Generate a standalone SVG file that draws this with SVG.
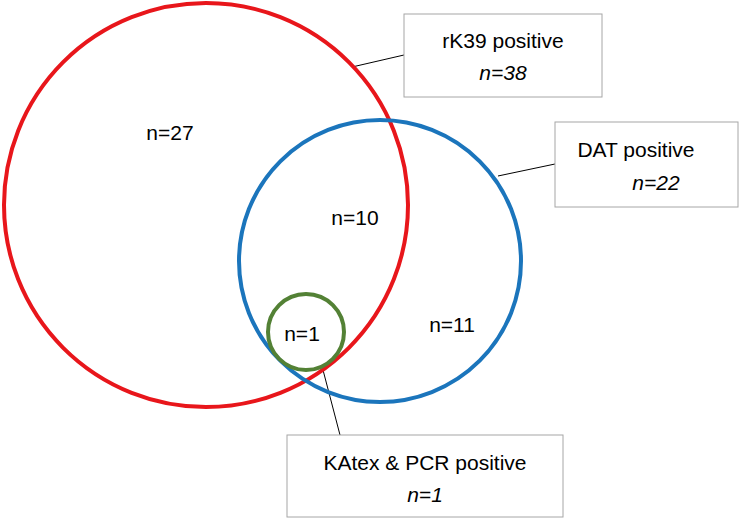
<svg xmlns="http://www.w3.org/2000/svg" width="750" height="524" viewBox="0 0 750 524">
<style>
text{font-family:"Liberation Sans",Arial,sans-serif;font-size:21px;fill:#000}
.box{fill:#fff;stroke:#a6a6a6;stroke-width:1}
.ln{stroke:#000;stroke-width:1;fill:none}
.it{font-style:italic}
</style>
<rect width="750" height="524" fill="#fff"/>
<g id="connectors">
<line class="ln" x1="352" y1="67" x2="404" y2="55"/>
<line class="ln" x1="498" y1="176" x2="555" y2="164"/>
<line class="ln" x1="323" y1="370" x2="340" y2="435"/>
</g>
<g id="rk39"><circle cx="206" cy="205" r="202" fill="none" stroke="#e8161b" stroke-width="4"/>
<text x="170" y="140" text-anchor="middle">n=27</text></g>
<g id="dat"><circle cx="380" cy="261" r="141" fill="none" stroke="#1b75bc" stroke-width="4"/>
<text x="355" y="225" text-anchor="middle">n=10</text>
<text x="452" y="332" text-anchor="middle">n=11</text></g>
<g id="katex"><circle cx="306" cy="332" r="38" fill="none" stroke="#538135" stroke-width="4"/>
<text x="302" y="341" text-anchor="middle">n=1</text></g>
<g id="rk39-label"><rect class="box" x="404" y="14" width="198" height="83"/>
<text x="503" y="48" text-anchor="middle">rK39 positive</text>
<text class="it" x="503" y="80" text-anchor="middle">n=38</text></g>
<g id="dat-label"><rect class="box" x="555" y="122" width="183" height="85"/>
<text x="636" y="157" text-anchor="middle">DAT positive</text>
<text class="it" x="656" y="190" text-anchor="middle">n=22</text></g>
<g id="katex-label"><rect class="box" x="287" y="435" width="276" height="82"/>
<text x="425" y="470" text-anchor="middle">KAtex &amp; PCR positive</text>
<text class="it" x="425" y="502" text-anchor="middle">n=1</text></g>
</svg>
